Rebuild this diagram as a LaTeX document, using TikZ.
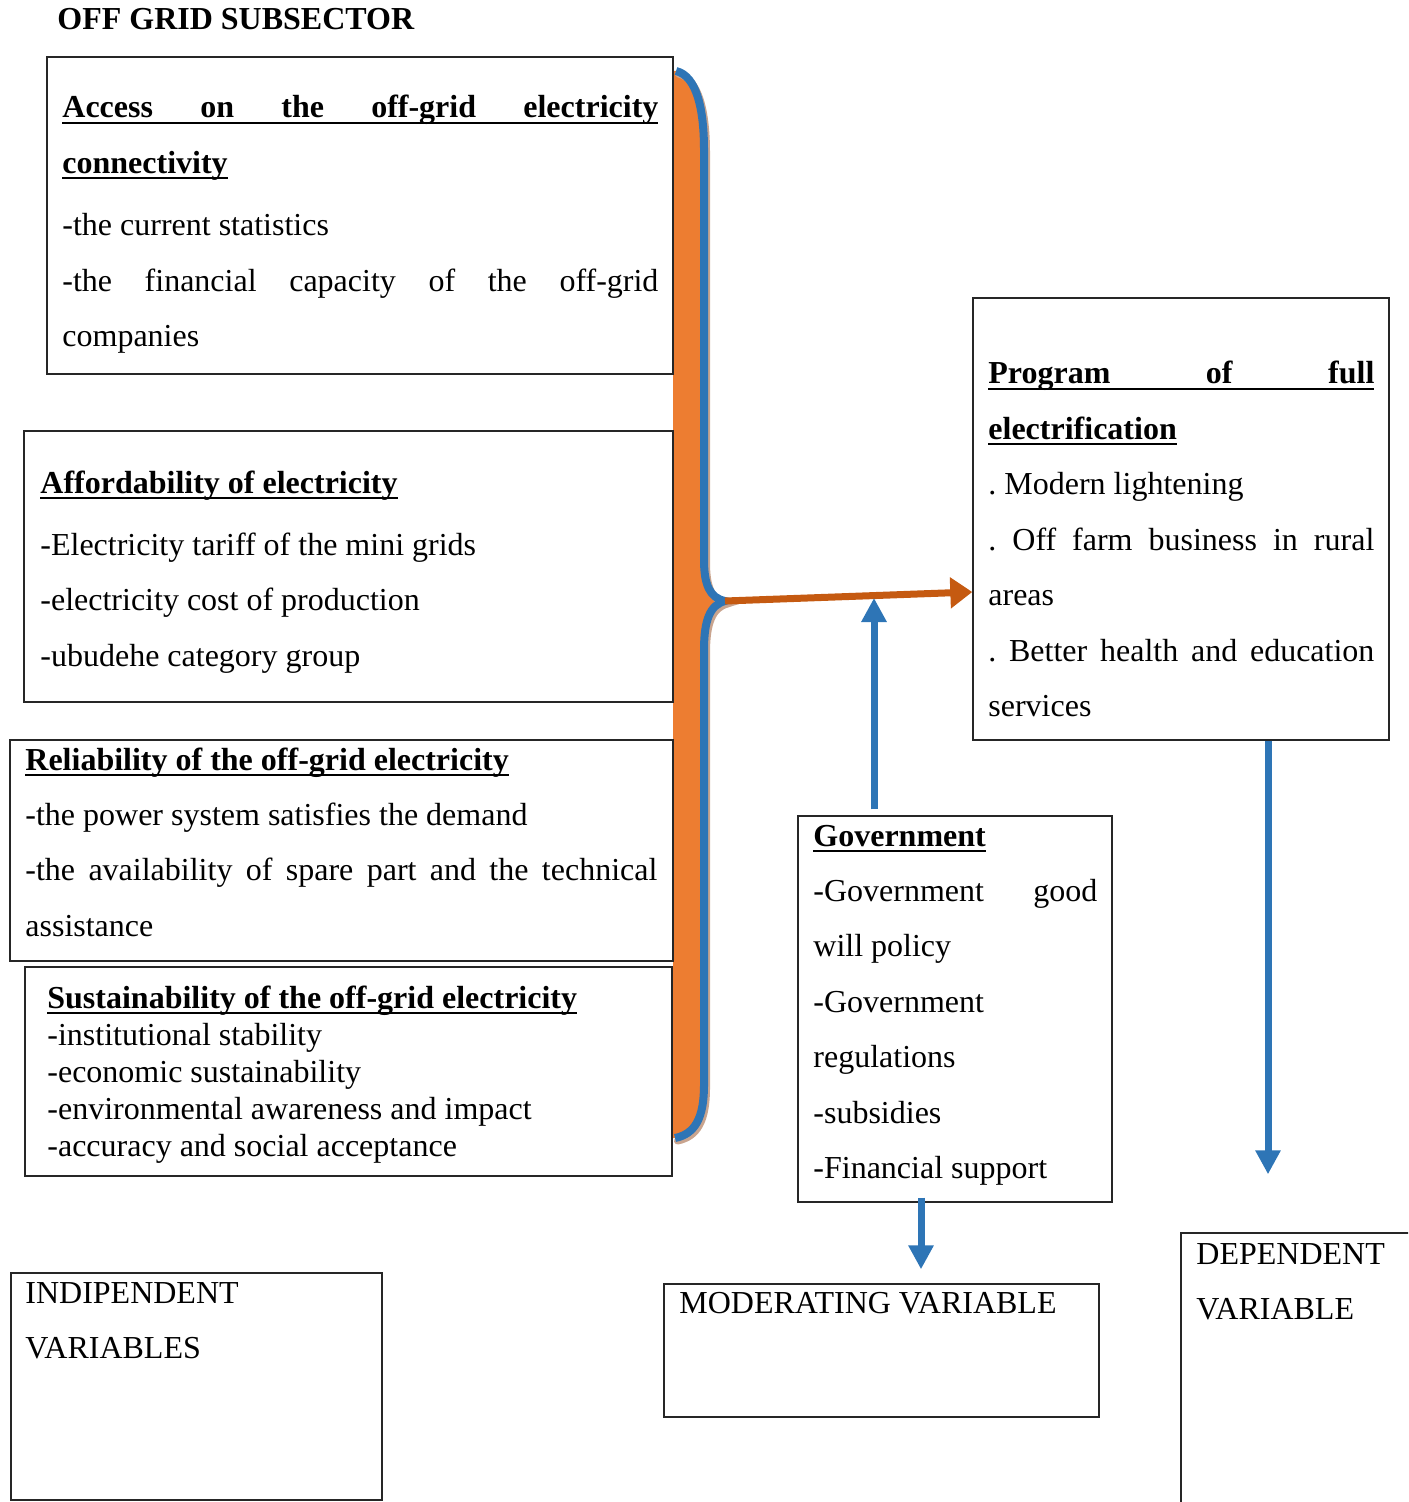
\documentclass[tikz,border=0pt]{standalone}
\usepackage{fontspec}
\setmainfont{Liberation Serif}
\usetikzlibrary{arrows.meta,fit}
\definecolor{braceor}{HTML}{ED7D31}
\definecolor{bluel}{HTML}{2E75B6}
\definecolor{arror}{HTML}{C55A11}
\definecolor{shad}{HTML}{C9A48E}
\setlength\parindent{0pt}
\newcommand\fixsp{\spaceskip=4pt plus 30pt minus 1pt\xspaceskip=4pt plus 30pt minus 1pt\relax}
\newcommand\hd[1]{\leavevmode\setbox0\hbox{\bfseries\fixsp #1}\rlap{\rule[-2.8pt]{\wd0}{0.9pt}}\box0}
\newcommand\jl[1]{\makebox[\hsize][s]{#1}}
\newcommand\dblfont{\fontsize{16}{27.7}\selectfont}
\newcommand\sglfont{\fontsize{16}{18.5}\selectfont}
\begin{document}
\begin{tikzpicture}[x=0.5pt,y=-0.5pt,
  box/.style={draw=black!85, line width=0.7pt, inner sep=0pt},
  txt/.style={anchor=base west, inner sep=0pt, align=left, font=\dblfont, execute at begin node=\fixsp},
  bluearrow/.style={draw=bluel, line width=3.5pt, -{Triangle[length=12pt,width=12pt]}},
  orarrow/.style={draw=arror, line width=3.5pt, -{Triangle[length=11pt,width=15pt]}}]
\useasboundingbox (0,0) rectangle (1408,1502);
\clip (0,0) rectangle (1408,1502);

% brace
\def\bracecurve{(676,71) .. controls (697,76) and (704,110) .. (704,150) -- (704,560) .. controls (704,585) and (710,598) .. (725,601) .. controls (710,605) and (704,620) .. (704,650) -- (704,1085) .. controls (704,1118) and (695,1134) .. (675,1138)}
\fill[braceor] (673,71) -- \bracecurve -- (673,1138) -- cycle;
\draw[shad, line width=3.5pt, line cap=round] [shift={(2.5,3)}] \bracecurve;
\draw[bluel, line width=4pt] \bracecurve;
\coordinate (tip) at (725,601);

% title
\node[anchor=base west, inner sep=0pt, font=\bfseries\fontsize{16}{19}\selectfont] (title) at (57,30) {OFF GRID SUBSECTOR};

% boxes
\node[box, fit={(47,57)(673,374)}] (A) {};
\node[box, fit={(24,431)(673,702)}] (B) {};
\node[box, fit={(10,740)(673,961)}] (C) {};
\node[box, line width=1.2pt, fit={(25,967)(672,1176)}] (D) {};
\node[box, fit={(973,298)(1389,740)}] (E) {};
\node[box, fit={(798,816)(1112,1202)}] (F) {};
\node[box, fit={(664,1284)(1099,1417)}] (G) {};
\node[box, fit={(1181,1233)(1430,1530)}] (H) {};
\node[box, fit={(11,1273)(382,1500)}] (I) {};

% texts
\node[txt, text width=298pt] (At) at (62,118) {\hd{\jl{Access on the off-grid electricity}}\\
\hd{connectivity}\\[3.5pt]
-the current statistics\\
\jl{-the financial capacity of the off-grid}\\
companies};

\node[txt, text width=310pt] (Bt) at (40,493) {\hd{Affordability of electricity}\\[3.5pt]
-Electricity tariff of the mini grids\\
-electricity cost of production\\
-ubudehe category group};

\node[txt, text width=316pt] (Ct) at (25,770) {\hd{Reliability of the off-grid electricity}\\
-the power system satisfies the demand\\
\jl{-the availability of spare part and the technical}\\
assistance};

\node[txt, text width=305pt, font=\sglfont] (Dt) at (47,1008) {\hd{Sustainability of the off-grid electricity}\\
-institutional stability\\
-economic sustainability\\
-environmental awareness and impact\\
-accuracy and social acceptance};

\node[txt, text width=193pt] (Et) at (988,384) {\hd{\jl{Program of full}}\\
\hd{electrification}\\
. Modern lightening\\
\jl{. Off farm business in rural}\\
areas\\
\jl{. Better health and education}\\
services};

\node[txt, text width=142pt] (Ft) at (813,846) {\hd{Government}\\
\jl{-Government good}\\
will policy\\
-Government\\
regulations\\
-subsidies\\
-Financial support};

\node[txt] (Gt) at (679,1313) {MODERATING VARIABLE};
\node[txt, text width=100pt] (Ht) at (1196,1264) {DEPENDENT\\VARIABLE};
\node[txt, text width=150pt] (It) at (25,1303) {INDIPENDENT\\VARIABLES};

% arrows
\draw[orarrow] (tip) -- (E.west |- 0,592);
\draw[bluearrow, shorten <=3pt] (F.north -| 874,0) -- (874,598);
\draw[bluearrow, shorten <=-2.5pt, shorten >=7pt] (F.south -| 921,0) -- (G.north -| 921,0);
\draw[bluearrow, shorten >=29pt] (E.south -| 1268,0) -- (H.north -| 1268,0);
\end{tikzpicture}
\end{document}
